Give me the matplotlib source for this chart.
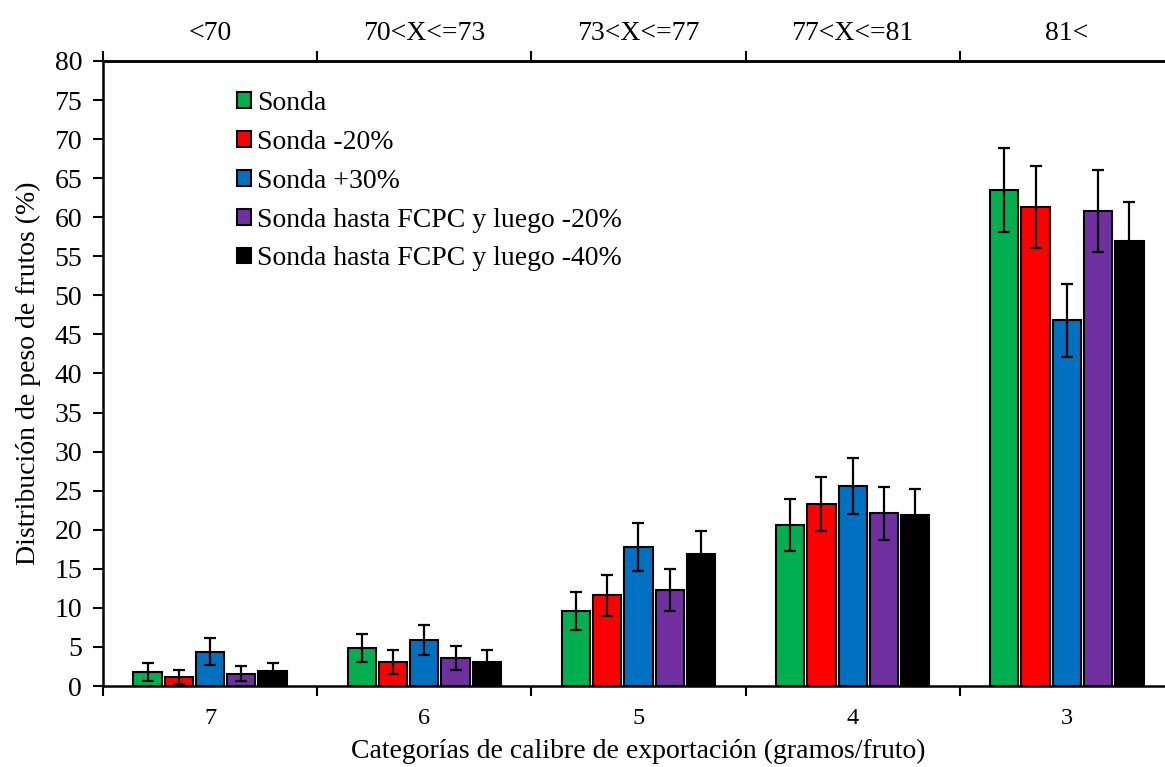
import numpy as np
import matplotlib.pyplot as plt

plt.rcParams['font.family'] = ['Liberation Serif', 'DejaVu Serif']

categories = ['7', '6', '5', '4', '3']
top_labels = ['<70', '70<X<=73', '73<X<=77', '77<X<=81', '81<']
series = ['Sonda', 'Sonda -20%', 'Sonda +30%',
          'Sonda hasta FCPC y luego -20%', 'Sonda hasta FCPC y luego -40%']
colors = ['#00B050', '#FF0000', '#0070C0', '#7030A0', '#000000']

sonda = [1.8, 4.9, 9.6, 20.6, 63.5]
sonda_m20 = [1.1, 3.1, 11.6, 23.3, 61.3]
sonda_p30 = [4.4, 5.9, 17.8, 25.6, 46.8]
fcpc_m20 = [1.6, 3.6, 12.3, 22.1, 60.8]
fcpc_m40 = [1.9, 3.1, 16.9, 21.9, 56.9]

err_sonda = [1.2, 1.8, 2.4, 3.3, 5.4]
err_sonda_m20 = [0.9, 1.5, 2.6, 3.5, 5.3]
err_sonda_p30 = [1.7, 1.9, 3.1, 3.6, 4.7]
err_fcpc_m20 = [1.0, 1.5, 2.7, 3.4, 5.3]
err_fcpc_m40 = [1.1, 1.5, 3.0, 3.3, 5.0]

values = [sonda, sonda_m20, sonda_p30, fcpc_m20, fcpc_m40]
errors = [err_sonda, err_sonda_m20, err_sonda_p30, err_fcpc_m20, err_fcpc_m40]

fig = plt.figure(figsize=(11.65, 7.67), dpi=100)
ax = fig.add_axes([0.0884, 0.1056, 0.9193, 0.8149])

x = np.arange(len(categories))
pitch = 0.146
width = 0.132
for i in range(len(series)):
    ax.bar(x + (i - 2) * pitch, values[i], width, color=colors[i],
           edgecolor='black', linewidth=1.5, label=series[i],
           yerr=errors[i], capsize=4,
           error_kw={'elinewidth': 1.6, 'capthick': 1.6, 'ecolor': 'black'})

ax.set_xlim(-0.5, 4.5)
ax.set_ylim(0, 80)
ax.set_yticks(np.arange(0, 81, 5))
ax.set_xticks(np.arange(-0.5, 4.6, 1))
ax.set_xticklabels([])
ax.set_xticks(x, minor=True)
ax.set_xticklabels(categories, minor=True)
ax.tick_params(axis='x', which='minor', length=0, labelsize=17.5, pad=16)
ax.tick_params(axis='x', which='major', length=7, width=1.5, direction='out')
ax.tick_params(axis='y', length=7, width=1.5, direction='out', labelsize=20, pad=8)
for s in ax.spines.values():
    s.set_linewidth(1.8)

top = ax.secondary_xaxis('top')
top.set_xticks(np.arange(-0.5, 4.6, 1))
top.set_xticklabels([])
top.set_xticks(x, minor=True)
top.set_xticklabels(top_labels, minor=True)
top.tick_params(axis='x', which='minor', length=0, labelsize=20, pad=11)
top.tick_params(axis='x', which='major', length=7, width=1.5, direction='out')
top.spines['top'].set_linewidth(1.8)

ax.set_xlabel('Categorías de calibre de exportación (gramos/fruto)', fontsize=20, labelpad=7)
ax.set_ylabel('Distribución de peso de frutos (%)', fontsize=20, labelpad=10)

ax.legend(loc='upper left', bbox_to_anchor=(0.115, 0.97), frameon=False,
          fontsize=20, handlelength=0.5, handleheight=0.5,
          handletextpad=0.2, labelspacing=0.5, borderaxespad=0)

fig.savefig('out.png', dpi=100)
